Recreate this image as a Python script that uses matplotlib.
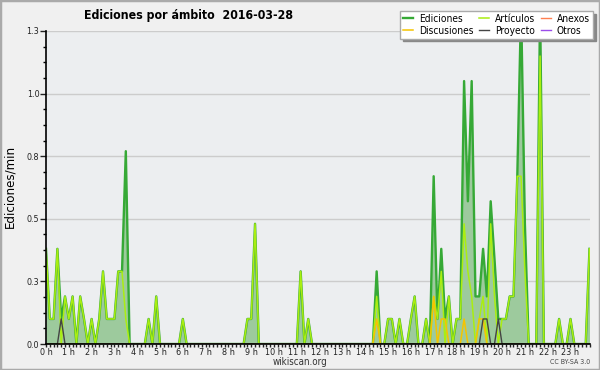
import matplotlib.pyplot as plt
from matplotlib.patches import Rectangle
from matplotlib.ticker import FixedLocator, MultipleLocator
import numpy as np

plt.rcParams["font.family"] = ["DejaVu Sans"]
plt.rcParams["font.stretch"] = "condensed"

title = "Ediciones por ámbito  2016-03-28"
hour_labels = [f"{h} h" for h in range(24)]
y_ticks = [0.0, 0.25, 0.5, 0.75, 1.0, 1.25]
y_labels = ["0.0", "0.3", "0.5", "0.8", "1.0", "1.3"]

# edits/min, one value every 10 minutes (one row = one hour)
ediciones = [
    0.38, 0.10, 0.10, 0.38, 0.10, 0.19,
    0.10, 0.19, 0.00, 0.19, 0.10, 0.00,
    0.10, 0.00, 0.10, 0.29, 0.10, 0.10,
    0.10, 0.29, 0.29, 0.77, 0.00, 0.00,
    0.00, 0.00, 0.00, 0.10, 0.00, 0.19,
    0.00, 0.00, 0.00, 0.00, 0.00, 0.00,
    0.10, 0.00, 0.00, 0.00, 0.00, 0.00,
    0.00, 0.00, 0.00, 0.00, 0.00, 0.00,
    0.00, 0.00, 0.00, 0.00, 0.00, 0.10,
    0.10, 0.48, 0.00, 0.00, 0.00, 0.00,
    0.00, 0.00, 0.00, 0.00, 0.00, 0.00,
    0.00, 0.29, 0.00, 0.10, 0.00, 0.00,
    0.00, 0.00, 0.00, 0.00, 0.00, 0.00,
    0.00, 0.00, 0.00, 0.00, 0.00, 0.00,
    0.00, 0.00, 0.00, 0.29, 0.00, 0.00,
    0.10, 0.10, 0.00, 0.10, 0.00, 0.00,
    0.10, 0.19, 0.00, 0.00, 0.10, 0.00,
    0.67, 0.10, 0.38, 0.10, 0.19, 0.00,
    0.10, 0.10, 1.05, 0.57, 1.05, 0.19,
    0.19, 0.38, 0.19, 0.57, 0.34, 0.10,
    0.10, 0.10, 0.19, 0.19, 0.67, 1.35,
    0.48, 0.00, 0.00, 0.00, 1.35, 0.00,
    0.00, 0.00, 0.00, 0.10, 0.00, 0.00,
    0.10, 0.00, 0.00, 0.00, 0.00, 0.38,
]

articulos = [
    0.38, 0.10, 0.10, 0.38, 0.00, 0.19,
    0.10, 0.19, 0.00, 0.19, 0.10, 0.00,
    0.10, 0.00, 0.10, 0.29, 0.10, 0.10,
    0.10, 0.29, 0.29, 0.10, 0.00, 0.00,
    0.00, 0.00, 0.00, 0.10, 0.00, 0.19,
    0.00, 0.00, 0.00, 0.00, 0.00, 0.00,
    0.10, 0.00, 0.00, 0.00, 0.00, 0.00,
    0.00, 0.00, 0.00, 0.00, 0.00, 0.00,
    0.00, 0.00, 0.00, 0.00, 0.00, 0.10,
    0.10, 0.48, 0.00, 0.00, 0.00, 0.00,
    0.00, 0.00, 0.00, 0.00, 0.00, 0.00,
    0.00, 0.29, 0.00, 0.10, 0.00, 0.00,
    0.00, 0.00, 0.00, 0.00, 0.00, 0.00,
    0.00, 0.00, 0.00, 0.00, 0.00, 0.00,
    0.00, 0.00, 0.00, 0.19, 0.00, 0.00,
    0.10, 0.10, 0.00, 0.10, 0.00, 0.00,
    0.10, 0.19, 0.00, 0.00, 0.10, 0.00,
    0.19, 0.10, 0.29, 0.00, 0.19, 0.00,
    0.10, 0.10, 0.48, 0.29, 0.19, 0.00,
    0.10, 0.19, 0.00, 0.48, 0.19, 0.00,
    0.10, 0.10, 0.19, 0.19, 0.67, 0.67,
    0.29, 0.00, 0.00, 0.00, 1.15, 0.00,
    0.00, 0.00, 0.00, 0.10, 0.00, 0.00,
    0.10, 0.00, 0.00, 0.00, 0.00, 0.38,
]

discusiones = [
    0.00, 0.00, 0.00, 0.00, 0.00, 0.00,
    0.00, 0.00, 0.00, 0.00, 0.00, 0.00,
    0.00, 0.00, 0.00, 0.00, 0.00, 0.00,
    0.00, 0.00, 0.00, 0.00, 0.00, 0.00,
    0.00, 0.00, 0.00, 0.00, 0.00, 0.00,
    0.00, 0.00, 0.00, 0.00, 0.00, 0.00,
    0.00, 0.00, 0.00, 0.00, 0.00, 0.00,
    0.00, 0.00, 0.00, 0.00, 0.00, 0.00,
    0.00, 0.00, 0.00, 0.00, 0.00, 0.00,
    0.00, 0.00, 0.00, 0.00, 0.00, 0.00,
    0.00, 0.00, 0.00, 0.00, 0.00, 0.00,
    0.00, 0.00, 0.00, 0.00, 0.00, 0.00,
    0.00, 0.00, 0.00, 0.00, 0.00, 0.00,
    0.00, 0.00, 0.00, 0.00, 0.00, 0.00,
    0.00, 0.00, 0.00, 0.10, 0.00, 0.00,
    0.00, 0.00, 0.00, 0.00, 0.00, 0.00,
    0.00, 0.00, 0.00, 0.00, 0.00, 0.00,
    0.19, 0.00, 0.10, 0.10, 0.00, 0.00,
    0.00, 0.00, 0.10, 0.00, 0.00, 0.00,
    0.10, 0.10, 0.00, 0.00, 0.00, 0.00,
    0.00, 0.00, 0.00, 0.00, 0.00, 0.00,
    0.00, 0.00, 0.00, 0.00, 0.00, 0.00,
    0.00, 0.00, 0.00, 0.00, 0.00, 0.00,
    0.00, 0.00, 0.00, 0.00, 0.00, 0.00,
]

proyecto = [
    0.00, 0.00, 0.00, 0.00, 0.10, 0.00,
    0.00, 0.00, 0.00, 0.00, 0.00, 0.00,
    0.00, 0.00, 0.00, 0.00, 0.00, 0.00,
    0.00, 0.00, 0.00, 0.00, 0.00, 0.00,
    0.00, 0.00, 0.00, 0.00, 0.00, 0.00,
    0.00, 0.00, 0.00, 0.00, 0.00, 0.00,
    0.00, 0.00, 0.00, 0.00, 0.00, 0.00,
    0.00, 0.00, 0.00, 0.00, 0.00, 0.00,
    0.00, 0.00, 0.00, 0.00, 0.00, 0.00,
    0.00, 0.00, 0.00, 0.00, 0.00, 0.00,
    0.00, 0.00, 0.00, 0.00, 0.00, 0.00,
    0.00, 0.00, 0.00, 0.00, 0.00, 0.00,
    0.00, 0.00, 0.00, 0.00, 0.00, 0.00,
    0.00, 0.00, 0.00, 0.00, 0.00, 0.00,
    0.00, 0.00, 0.00, 0.00, 0.00, 0.00,
    0.00, 0.00, 0.00, 0.00, 0.00, 0.00,
    0.00, 0.00, 0.00, 0.00, 0.00, 0.00,
    0.00, 0.00, 0.00, 0.00, 0.00, 0.00,
    0.00, 0.00, 0.00, 0.00, 0.00, 0.00,
    0.00, 0.10, 0.10, 0.00, 0.00, 0.10,
    0.00, 0.00, 0.00, 0.00, 0.00, 0.00,
    0.00, 0.00, 0.00, 0.00, 0.00, 0.00,
    0.00, 0.00, 0.00, 0.00, 0.00, 0.00,
    0.00, 0.00, 0.00, 0.00, 0.00, 0.00,
]

# nothing visible for these two
anexos = [0.0] * len(ediciones)
otros = [0.0] * len(ediciones)

minutes = np.arange(len(ediciones)) * 10

fig = plt.figure(figsize=(6, 3.7), dpi=100)
fig.patch.set_facecolor("#f0f0f0")
ax = fig.add_axes([46 / 600, 26 / 370, 543.5 / 600, 313 / 370])
ax.set_facecolor("#eceef0")

ax.fill_between(minutes, ediciones, color="#9dca9d", lw=0, zorder=2)
l_ed, = ax.plot(minutes, ediciones, color="#36a936", lw=1.7, zorder=3)
l_an, = ax.plot(minutes, anexos, color="#ff7f50", lw=1, zorder=3)
l_ot, = ax.plot(minutes, otros, color="#9b4dea", lw=1, zorder=3)
l_art, = ax.plot(minutes, articulos, color="#aaee11", lw=1.1, zorder=4)
l_dis, = ax.plot(minutes, discusiones, color="#f5c400", lw=1.1, zorder=5)
l_pro, = ax.plot(minutes, proyecto, color="#444444", lw=1.0, zorder=6)

ax.set_xlim(0, minutes[-1])
ax.set_ylim(0, 1.25)
ax.xaxis.set_major_locator(FixedLocator(np.arange(24) * 60))
ax.set_xticklabels(hour_labels)
ax.xaxis.set_minor_locator(MultipleLocator(10))
ax.set_yticks(y_ticks)
ax.set_yticklabels(y_labels)
ax.yaxis.set_minor_locator(MultipleLocator(0.0625))

ax.tick_params(axis="x", which="both", length=2.3, width=1, direction="out",
               labelsize=6.5, pad=0.5, colors="#222222")
ax.tick_params(axis="y", which="major", length=4.3, width=1, labelsize=6.5,
               pad=0.5, colors="#222222")
ax.tick_params(axis="y", which="minor", length=2.2, width=1)

ax.yaxis.grid(True, color="#cccccc", lw=1)
ax.set_axisbelow(True)
for s in ["top", "right"]:
    ax.spines[s].set_visible(False)
for s in ["left", "bottom"]:
    ax.spines[s].set_linewidth(1.2)
    ax.spines[s].set_zorder(7)

fig.text(188 / 600, 1 - 15 / 370, title, ha="center", va="center",
         fontsize=8.8, fontweight="bold")
fig.text(10 / 600, 1 - 186 / 370, "Ediciones/min", rotation=90,
         ha="center", va="center", fontsize=8.6, fontstretch="normal")
fig.text(300 / 600, 1 - 362 / 370, "wikiscan.org", ha="center", va="center",
         fontsize=7, color="#333333")
fig.text(590 / 600, 1 - 362 / 370, "CC BY-SA 3.0", ha="right", va="center",
         fontsize=5, color="#444444")

handles = [l_ed, l_dis, l_art, l_pro, l_an, l_ot]
labels = ["Ediciones", "Discusiones", "Artículos", "Proyecto", "Anexos", "Otros"]
fig.legend(handles, labels, ncol=3, loc="upper right",
           bbox_to_anchor=(593 / 600, 1 - 11 / 370), fontsize=7.3,
           fancybox=False, shadow={"color": "#888888", "alpha": 1},
           edgecolor="#aaaaaa", framealpha=1, handlelength=1.0,
           handletextpad=0.6, columnspacing=0.5, borderpad=0.3,
           labelspacing=0.15, borderaxespad=0)

fig.add_artist(Rectangle((0, 0), 1, 1, transform=fig.transFigure, fill=False,
                         edgecolor="#aaaaaa", lw=2.5))

fig.savefig("out.png", dpi=100, facecolor=fig.get_facecolor())
